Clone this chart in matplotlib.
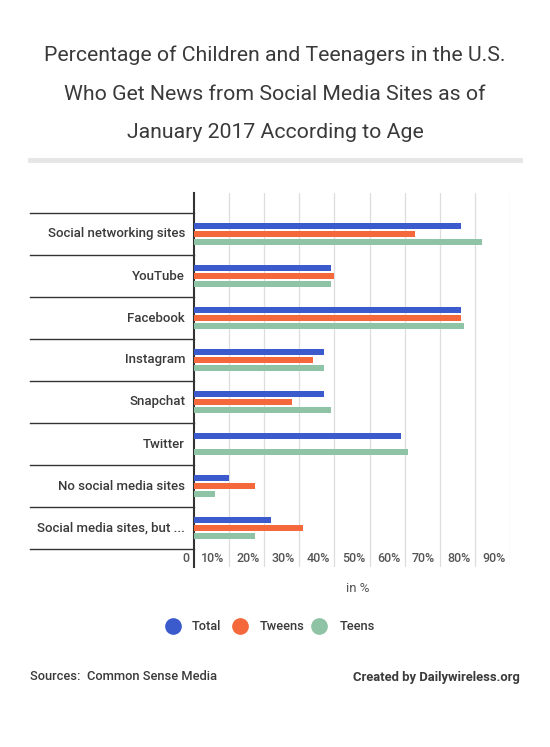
import matplotlib
matplotlib.use("Agg")
import matplotlib.pyplot as plt
import matplotlib.transforms as mtransforms
from matplotlib.lines import Line2D
import numpy as np

plt.rcParams['font.family'] = ['Roboto', 'DejaVu Sans']

# ── data ──────────────────────────────────────────────────────────────────────
categories = ["Social networking sites", "YouTube", "Facebook", "Instagram",
              "Snapchat", "Twitter", "No social media sites",
              "Social media sites, but ..."]
total  = [76, 39, 76, 37, 37, 59, 10, 22]
tweens = [63, 40, 76, 34, 28, 0, 17.5, 31]
teens  = [82, 39, 77, 37, 39, 61, 6, 17.5]
series_names = ["Total", "Tweens", "Teens"]
colors = ["#3b5bcc", "#f4683c", "#8fc3a5"]
xticks = [0, 10, 20, 30, 40, 50, 60, 70, 80, 90]
xtick_labels = ["0"] + [f"{v}%" for v in xticks[1:]]

TXT = "#3a3a3a"
W, H = 550, 747
fig = plt.figure(figsize=(W / 100, H / 100), dpi=100)

def px(x, y):
    return x / W, 1 - y / H

# title
for i, line in enumerate(["Percentage of Children and Teenagers in the U.S.",
                          "Who Get News from Social Media Sites as of",
                          "January 2017 According to Age"]):
    fig.text(*px(275, 55 + 39 * i), line, ha="center", va="center",
             fontsize=15.3, color=TXT)
fig.add_artist(Line2D([30 / W, 520 / W], [1 - 160 / H] * 2, color="#e6e6e6",
                      lw=3.5, transform=fig.transFigure))

# ── axes ──────────────────────────────────────────────────────────────────────
ax_l, ax_r, ax_t, ax_b = 194, 510, 193, 567
ax = fig.add_axes([ax_l / W, 1 - ax_b / H, (ax_r - ax_l) / W, (ax_b - ax_t) / H])
band = 42.0
top_off = (213 - ax_t) / band
bot_off = (ax_b - 549) / band
ax.set_ylim(len(categories) - 0.5 + bot_off, -0.5 - top_off)
ax.set_xlim(0, 90)

y = np.arange(len(categories))
h, step = 0.155, 0.19
for k, (vals, c) in enumerate(zip([total, tweens, teens], colors)):
    ax.barh(y + (k - 1) * step, vals, height=h, color=c, zorder=3)

for x in xticks[1:]:
    ax.axvline(x, color="#dddddd", lw=0.9, zorder=1)
for s in ["top", "right", "bottom"]:
    ax.spines[s].set_visible(False)
ax.spines["left"].set_color("#333333")
ax.spines["left"].set_linewidth(1.5)

ax.set_yticks([])
ax.set_xticks([])
# category labels + separators
trans = mtransforms.blended_transform_factory(fig.transFigure, ax.transData)
for i, cat in enumerate(categories):
    fig.text(185 / W, i, cat, transform=trans, ha="right", va="center",
             fontsize=9.5, color=TXT, fontweight="medium")
for i in range(len(categories) + 1):
    fig.add_artist(Line2D([30 / W, ax_l / W], [i - 0.5] * 2, color="#333333",
                          lw=1.0, transform=trans))

# x tick labels right-aligned to gridlines
transx = mtransforms.blended_transform_factory(ax.transData, fig.transFigure)
for v, lab in zip(xticks, xtick_labels):
    fig.text(v - 1.3, 1 - 558 / H, lab, transform=transx, ha="right",
             va="center", fontsize=9, color="#555555", fontweight="medium")
fig.text(*px(358, 588), "in %", ha="center", va="center", fontsize=9.5,
         color="#555555")

# legend
for name, c, cx, tx in zip(series_names, colors, [173, 240, 319], [192, 260, 340]):
    fig.add_artist(Line2D([cx / W], [1 - 626 / H], marker="o", markersize=11,
                          color=c, linestyle="none", transform=fig.transFigure))
    fig.text(*px(tx, 626), name, ha="left", va="center", fontsize=9.2,
             color=TXT, fontweight="medium")

# footer
fig.text(*px(30, 677), "Sources:  Common Sense Media", ha="left", va="center",
         fontsize=9.3, color=TXT, fontweight="medium")
fig.text(*px(520, 677), "Created by Dailywireless.org", ha="right", va="center",
         fontsize=9.4, color=TXT, fontweight="bold")

fig.savefig("out.png", dpi=100, facecolor="white")
